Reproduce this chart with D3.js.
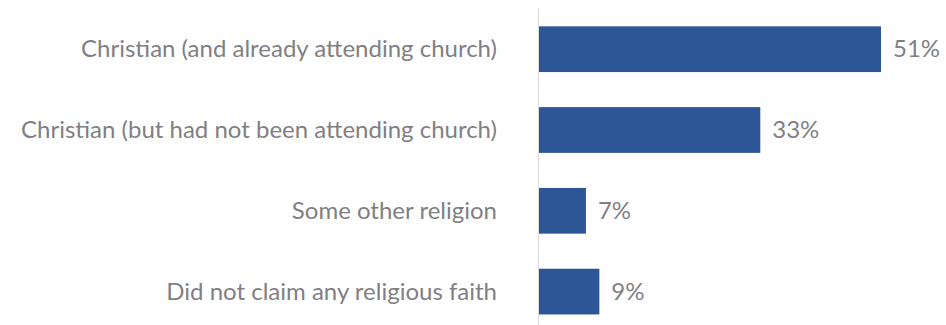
<!DOCTYPE html>
<html>
<head>
<meta charset="utf-8">
<script src="https://cdn.jsdelivr.net/npm/d3@7/dist/d3.min.js"></script>
<style>
  html, body { margin: 0; padding: 0; background: #ffffff; }
  svg { display: block; }
  text { font-family: Lato, "Open Sans", sans-serif; }
</style>
</head>
<body>
<svg id="chart" width="946" height="325"></svg>
<script>
// Religious background of respondents (share, %)
const categories = [
  "Christian (and already attending church)",
  "Christian (but had not been attending church)",
  "Some other religion",
  "Did not claim any religious faith"
];
const values = [51, 33, 7, 9];
const valueLabels = ["51%", "33%", "7%", "9%"];

const width = 946, height = 325;
const svg = d3.select("#chart");

const x = d3.scaleLinear()
  .domain([0, 51])
  .range([539, 881]);

const y = d3.scaleBand()
  .domain(categories)
  .range([8.8, 332])
  .paddingInner(0.434)
  .paddingOuter(0.217);

const barColor = "#2d5697";
const textColor = "#7f7f84";

// vertical baseline
svg.append("line")
  .attr("x1", x(0) - 0.5).attr("x2", x(0) - 0.5)
  .attr("y1", y.range()[0]).attr("y2", y.range()[1])
  .attr("stroke", "#d9d9d9")
  .attr("stroke-width", 1);

// bars
svg.append("g")
  .selectAll("rect")
  .data(values)
  .join("rect")
  .attr("x", x(0))
  .attr("y", (d, i) => y(categories[i]))
  .attr("width", d => x(d) - x(0))
  .attr("height", y.bandwidth())
  .attr("fill", barColor);

// category labels
const yAxis = d3.axisLeft(y).tickSize(0).tickPadding(0);
const gAxis = svg.append("g")
  .attr("transform", `translate(${x(0) - 42},0)`)
  .call(yAxis);
gAxis.select(".domain").remove();
gAxis.selectAll("text")
  .attr("fill", textColor)
  .attr("font-size", 24)
  .attr("font-family", "Lato, 'Open Sans', sans-serif")
  .attr("dy", "0.34em");

// value labels
svg.append("g")
  .selectAll("text")
  .data(values)
  .join("text")
  .attr("x", d => x(d) + 12)
  .attr("y", (d, i) => y(categories[i]) + y.bandwidth() / 2)
  .attr("dy", "0.34em")
  .attr("fill", textColor)
  .attr("font-size", 24)
  .text((d, i) => valueLabels[i]);
</script>
</body>
</html>
